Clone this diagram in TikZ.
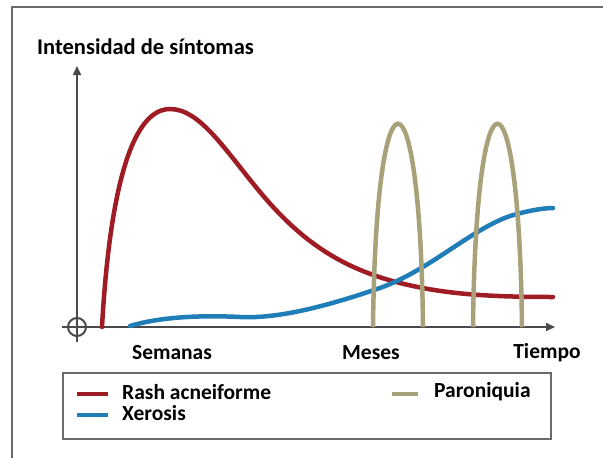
\documentclass[tikz,border=0pt]{standalone}
\usepackage{fontspec}
\setmainfont{Carlito}
\usetikzlibrary{arrows.meta}
\definecolor{rashred}{HTML}{A01C24}
\definecolor{xeroblue}{HTML}{1F7DB8}
\definecolor{paroolive}{HTML}{A8A27A}
\definecolor{axisgray}{HTML}{4A4A4C}
\definecolor{framegray}{HTML}{6A6A6A}
\tikzset{
  curve/.style={line width=4.5pt, line cap=round},
  axisline/.style={draw=axisgray, line width=2pt},
  lbl/.style={font=\fontsize{21.5}{25}\selectfont\bfseries, text=black, inner sep=0pt},
  legline/.style={line width=4.5pt},
}
\begin{document}
\begin{tikzpicture}[x=1pt,y=-1pt]
\useasboundingbox (0,0) rectangle (603,458);
% frame
\draw[framegray, line width=2pt] (12,458) -- (12,7) -- (603,7);
% title
\node[lbl, font=\fontsize{22.5}{26}\selectfont\bfseries, anchor=west] (title) at (37,47) {Intensidad de síntomas};
% axes
\coordinate (O) at (77,327);
\coordinate (ytip) at (77,66);
\coordinate (xtip) at (555,327);
\coordinate (xleft) at (62,327);
\coordinate (ybot) at (77,342);
\draw[axisline, -{Triangle[length=9pt,width=8pt]}] (xleft) -- (xtip);
\draw[axisline, -{Triangle[length=9pt,width=8pt]}] (ybot) -- (ytip);
\draw[axisgray, line width=2pt] (O) circle (9);
% curves
\draw[curve, rashred] (102,327) .. controls (108,220) and (125,109) .. (170,109)
  .. controls (200,109) and (225,150) .. (260,192)
  .. controls (300,240) and (340,268) .. (400,283)
  .. controls (440,293) and (480,297) .. (553,297);
\draw[curve, xeroblue] (130,326) .. controls (160,317) and (200,315) .. (240,317)
  .. controls (280,319) and (330,305) .. (380,288)
  .. controls (430,270) and (470,230) .. (510,216)
  .. controls (530,210) and (545,208) .. (553,208);
\draw[curve, paroolive, line cap=butt] (373,327) .. controls (376,56) and (420,56) .. (423,327);
\draw[curve, paroolive, line cap=butt] (473,327) .. controls (476,56) and (519,56) .. (522,327);
% axis labels
\node[lbl] (sem) at (172,353) {Semanas};
\node[lbl] (mes) at (371,353) {Meses};
\node[lbl] (tie) at (547,353) {Tiempo};
% legend
\draw[framegray, line width=1.5pt, fill=white] (63,373) rectangle (551,439);
\coordinate (r1) at (77,394); \coordinate (r2) at (108,394);
\coordinate (b1) at (77,415); \coordinate (b2) at (108,415);
\coordinate (p1) at (392,394); \coordinate (p2) at (418,394);
\draw[legline, rashred] (r1) -- (r2);
\draw[legline, xeroblue] (b1) -- (b2);
\draw[legline, paroolive] (p1) -- (p2);
\node[lbl, anchor=west] (lrash) at (122,392) {Rash acneiforme};
\node[lbl, anchor=west] (lxero) at (122,413) {Xerosis};
\node[lbl, anchor=west] (lparo) at (434,392) {Paroniquia};
\end{tikzpicture}
\end{document}
